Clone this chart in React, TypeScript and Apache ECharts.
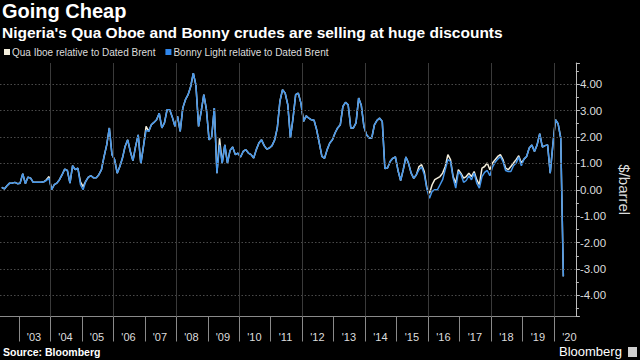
import React, { useEffect, useRef } from "react";
import * as echarts from "echarts";

// Monthly values, June 2002 .. April 2020 ($/barrel relative to Dated Brent)
const bonnyLight: number[] = [
  // 2002 Jun-Dec
  0.09, 0.03, 0.15, 0.25, 0.25, 0.28, 0.23,
  // 2003
  0.25, 0.61, 0.23, 0.48, 0.44, 0.28, 0.28, 0.28, 0.28, 0.30, 0.35, 0.44,
  // 2004
  0.00, 0.19, 0.25, 0.38, 0.57, 0.78, 0.73, 0.25, 0.91, 0.76, 0.82, 0.19,
  // 2005
  0.00, 0.32, 0.48, 0.53, 0.45, 0.45, 0.57, 0.76, 1.26, 1.70, 2.34, 1.33,
  // 2006
  1.14, 0.63, 0.88, 1.20, 1.64, 1.89, 1.45, 1.10, 1.64, 2.08, 0.98, 1.64,
  // 2007
  2.25, 2.21, 2.46, 2.55, 2.65, 2.90, 2.34, 2.53, 3.03, 3.03, 2.75, 2.40,
  // 2008
  2.78, 2.21, 3.10, 3.41, 3.60, 3.91, 4.42, 3.95, 2.40, 2.97, 3.60, 3.03,
  // 2009
  1.89, 2.00, 3.09, 0.63, 1.70, 1.01, 1.70, 1.01, 1.49, 1.62, 1.33, 1.39,
  // 2010
  1.24, 1.45, 1.52, 1.39, 1.33, 1.20, 1.52, 1.77, 1.89, 1.67, 1.54, 1.58,
  // 2011
  1.67, 1.89, 2.34, 3.35, 3.79, 3.66, 3.22, 1.96, 2.71, 3.60, 3.66, 3.28,
  // 2012
  2.59, 2.80, 2.71, 2.65, 2.63, 2.27, 1.77, 1.26, 1.19, 1.52, 1.77, 1.89,
  // 2013
  2.15, 2.34, 2.46, 3.16, 3.31, 3.22, 2.34, 2.34, 2.53, 3.47, 3.20, 2.40,
  // 2014
  2.08, 1.96, 1.96, 2.46, 2.63, 2.71, 2.59, 0.80, 0.82, 1.07, 1.19, 1.24,
  // 2015
  0.73, 0.35, 0.76, 1.24, 1.01, 0.63, 0.43, 0.57, 0.76, 0.86, 0.59, 0.03,
  // 2016
  -0.32, -0.06, 0.00, 0.00, 0.19, 0.38, 0.76, 1.14, 1.07, 0.44, 0.06, 0.69,
  // 2017
  0.57, 0.28, 0.35, 0.53, 0.38, 0.63, 0.25, 0.06, 0.50, 0.66, 0.73, 0.53,
  // 2018
  0.86, 1.04, 1.16, 1.26, 1.07, 0.73, 0.69, 0.69, 0.91, 1.01, 1.24, 0.91,
  // 2019
  1.16, 1.26, 1.58, 1.69, 1.45, 1.70, 2.12, 1.62, 1.67, 1.70, 0.63, 1.70,
  // 2020 Jan-Apr
  2.65, 2.50, 1.96, -3.28,
];

const quaIboe: number[] = [
  // 2002 Jun-Dec
  0.09, 0.03, 0.15, 0.25, 0.25, 0.28, 0.23,
  // 2003
  0.25, 0.61, 0.23, 0.48, 0.44, 0.28, 0.28, 0.28, 0.28, 0.30, 0.38, 0.50,
  // 2004
  0.00, 0.19, 0.25, 0.38, 0.57, 0.78, 0.73, 0.25, 0.91, 0.76, 0.82, 0.30,
  // 2005
  0.12, 0.32, 0.48, 0.53, 0.45, 0.45, 0.57, 0.76, 1.26, 1.70, 2.34, 1.33,
  // 2006
  1.14, 0.63, 0.88, 1.20, 1.64, 1.89, 1.45, 1.10, 1.64, 2.08, 0.98, 1.64,
  // 2007
  2.40, 2.21, 2.46, 2.55, 2.65, 2.90, 2.34, 2.53, 3.03, 3.03, 2.75, 2.40,
  // 2008
  2.78, 2.21, 3.10, 3.41, 3.60, 3.91, 4.42, 3.95, 2.40, 2.97, 3.60, 3.03,
  // 2009
  1.89, 2.00, 3.09, 0.63, 1.95, 1.01, 1.70, 1.01, 1.49, 1.62, 1.33, 1.39,
  // 2010
  1.24, 1.45, 1.52, 1.39, 1.33, 1.20, 1.52, 1.77, 1.89, 1.67, 1.54, 1.58,
  // 2011
  1.67, 1.89, 2.34, 3.35, 3.79, 3.66, 3.22, 1.96, 2.71, 3.60, 3.66, 3.28,
  // 2012
  2.59, 2.80, 2.71, 2.65, 2.63, 2.27, 1.77, 1.26, 1.19, 1.52, 1.77, 1.89,
  // 2013
  2.15, 2.34, 2.46, 3.16, 3.31, 3.22, 2.34, 2.34, 2.53, 3.47, 3.20, 2.40,
  // 2014
  2.08, 1.96, 1.96, 2.46, 2.63, 2.71, 2.59, 0.80, 0.82, 1.07, 1.19, 1.24,
  // 2015
  0.73, 0.35, 0.76, 1.24, 1.01, 0.63, 0.43, 0.57, 0.88, 0.95, 0.69, 0.06,
  // 2016
  -0.13, 0.19, 0.38, 0.44, 0.50, 0.63, 0.88, 1.33, 1.14, 0.50, 0.25, 0.76,
  // 2017
  0.62, 0.44, 0.50, 0.63, 0.50, 0.69, 0.38, 0.19, 0.82, 0.88, 1.01, 0.76,
  // 2018
  1.01, 1.14, 1.26, 1.33, 1.14, 0.82, 0.76, 0.88, 1.01, 1.14, 1.29, 1.01,
  // 2019
  1.16, 1.26, 1.58, 1.69, 1.45, 1.70, 2.12, 1.62, 1.67, 1.70, 0.63, 1.70,
  // 2020 Jan-Apr
  2.65, 2.50, 1.96, -3.28,
];

const startYear = 2002;
const startMonth = 5; // June (0-based)
const yGridValues = [-4, -3, -2, -1, 0, 1, 2, 3, 4];
const xGridYears = [2004, 2006, 2008, 2010, 2012, 2014, 2016, 2018, 2020];

const monthPositions: number[] = bonnyLight.map((_, k) => {
  const y = startYear + Math.floor((startMonth + k) / 12);
  const m = (startMonth + k) % 12;
  return y + (m + 0.5) / 12;
});

const FONT = "'Liberation Sans', Arial, sans-serif";

export default function App() {
  const ref = useRef<HTMLDivElement>(null);
  useEffect(() => {
    if (!ref.current) return;
    const chart = echarts.init(ref.current, null, { renderer: "svg" });
    const option: any = {
      animation: false,
      backgroundColor: "#000000",
      textStyle: { fontFamily: FONT },
      title: [
        {
          text: "Going Cheap",
          left: 2,
          top: 1,
          padding: 0,
          textStyle: { color: "#ffffff", fontSize: 20, fontWeight: "bold", fontFamily: FONT },
        },
        {
          text: "Nigeria's Qua Oboe and Bonny crudes are selling at huge discounts",
          left: 2,
          top: 24,
          padding: 0,
          textStyle: { color: "#ffffff", fontSize: 15.5, fontWeight: "bold", fontFamily: FONT },
        },
      ],
      legend: {
        left: 4,
        top: 47,
        padding: 0,
        icon: "rect",
        itemWidth: 6,
        itemHeight: 6,
        itemGap: 10,
        textStyle: { color: "#dddddd", fontSize: 10, fontFamily: FONT, padding: [0, 0, 0, -3] },
        data: ["Qua Iboe relative to Dated Brent", "Bonny Light relative to Dated Brent"],
      },
      grid: { left: 0, right: 52, top: 63, bottom: 43.5 },
      xAxis: {
        type: "value",
        min: 2002.403,
        max: 2020.69,
        splitNumber: 18,
        minInterval: 1,
        maxInterval: 1,
        axisLine: { show: true, onZero: false, lineStyle: { color: "#8a8a8a", width: 1 } },
        axisTick: { show: true, length: 25, lineStyle: { color: "#8a8a8a" } },
        splitLine: { show: false },
        axisLabel: {
          color: "#dddddd",
          fontSize: 11,
          fontFamily: FONT,
          showMinLabel: false,
          showMaxLabel: false,
          align: "left",
          margin: 15,
          padding: [0, 0, 0, 8],
          formatter: (v: number) => "'" + String(Math.round(v)).slice(2),
        },
      },
      yAxis: {
        type: "value",
        position: "right",
        min: -4.8,
        max: 4.8,
        splitNumber: 10,
        minInterval: 1,
        maxInterval: 1,
        axisLine: { show: true, onZero: false, lineStyle: { color: "#bdbdbd", width: 1 } },
        axisTick: { show: true, length: 4, lineStyle: { color: "#bdbdbd" } },
        minorTick: { show: true, splitNumber: 2, length: 3, lineStyle: { color: "#bdbdbd" } },
        splitLine: { show: false },
        axisLabel: {
          color: "#dddddd",
          fontSize: 11.5,
          fontFamily: FONT,
          margin: 4,
          showMinLabel: false,
          showMaxLabel: false,
          formatter: (v: number) => v.toFixed(2),
        },
        name: "$/barrel",
        nameLocation: "middle",
        nameRotate: -90,
        nameGap: 40,
        nameTextStyle: { color: "#dddddd", fontSize: 15, fontFamily: FONT },
      },
      series: [
        {
          type: "line",
          name: "Qua Iboe relative to Dated Brent",
          data: monthPositions.map((t, i) => [t, quaIboe[i]]),
          showSymbol: false,
          symbol: "none",
          color: "#f3eedc",
          lineStyle: { color: "#f3eedc", width: 1.5 },
          z: 2,
          markLine: {
            silent: true,
            symbol: ["none", "none"],
            label: { show: false },
            emphasis: { disabled: true },
            data: [
              ...yGridValues.map((v) => ({
                yAxis: v,
                lineStyle: { color: "#4a4a4a", type: [1.5, 2], width: 1 },
              })),
              ...xGridYears.map((v) => ({
                xAxis: v,
                lineStyle: { color: "#3a3a3a", type: "solid", width: 1 },
              })),
            ],
          },
        },
        {
          type: "line",
          name: "Bonny Light relative to Dated Brent",
          data: monthPositions.map((t, i) => [t, bonnyLight[i]]),
          showSymbol: false,
          symbol: "none",
          color: "#2f86ec",
          lineStyle: { color: "#4596ea", width: 1.5 },
          z: 3,
        },
      ],
      graphic: [
        {
          type: "text",
          left: 3,
          top: 346,
          style: { text: "Source: Bloomberg", fill: "#ffffff", font: `bold 10.5px ${FONT}` },
        },
        {
          type: "text",
          left: 559,
          top: 345,
          style: { text: "Bloomberg", fill: "#ffffff", font: `13px ${FONT}` },
        },
        {
          type: "rect",
          left: 628,
          top: 347,
          shape: { width: 9, height: 10 },
          style: { fill: "#cfcfcf" },
        },
      ],
    };
    chart.setOption(option);
    return () => chart.dispose();
  }, []);
  return (
    <div
      ref={ref}
      style={{ position: "fixed", left: 0, top: 0, width: 640, height: 360 }}
    />
  );
}
